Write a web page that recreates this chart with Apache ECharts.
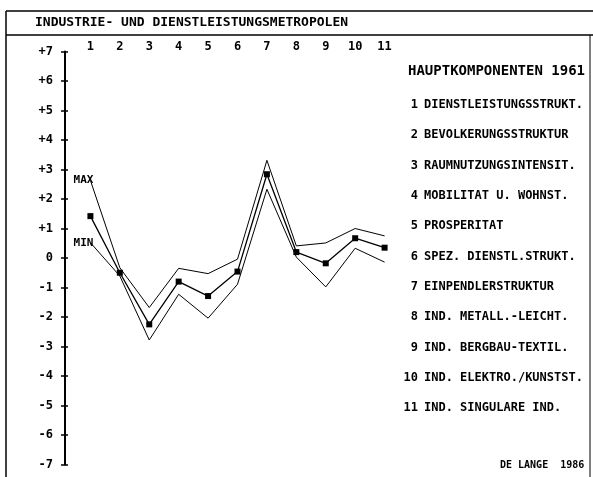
<!DOCTYPE html>
<html>
<head>
<meta charset="utf-8">
<script src="https://cdn.jsdelivr.net/npm/echarts@6/dist/echarts.min.js"></script>
<style>
  html, body { margin: 0; padding: 0; background: #fff; }
  #chart { width: 593px; height: 477px; }
</style>
</head>
<body>
<div id="chart"></div>
<script>
// components 1..11
const components = [1, 2, 3, 4, 5, 6, 7, 8, 9, 10, 11];
const maxValues = [2.63, -0.33, -1.68, -0.35, -0.53, -0.04, 3.31, 0.41, 0.51, 1.0, 0.75];
const meanValues = [1.42, -0.5, -2.25, -0.8, -1.29, -0.46, 2.84, 0.2, -0.18, 0.67, 0.35];
const minValues = [0.52, -0.61, -2.78, -1.23, -2.04, -0.89, 2.33, 0.03, -0.98, 0.33, -0.14];
const componentNames = [
  'DIENSTLEISTUNGSSTRUKT.',
  'BEVOLKERUNGSSTRUKTUR',
  'RAUMNUTZUNGSINTENSIT.',
  'MOBILITAT U. WOHNST.',
  'PROSPERITAT',
  'SPEZ. DIENSTL.STRUKT.',
  'EINPENDLERSTRUKTUR',
  'IND. METALL.-LEICHT.',
  'IND. BERGBAU-TEXTIL.',
  'IND. ELEKTRO./KUNSTST.',
  'IND. SINGULARE IND.'
];
const titleText = 'INDUSTRIE- UND DIENSTLEISTUNGSMETROPOLEN';
const legendTitle = 'HAUPTKOMPONENTEN 1961';
const sourceText = 'DE LANGE  1986';

const font = '"DejaVu Sans Mono", monospace';

function pairs(values) {
  return components.map((c, i) => [c, values[i]]);
}

const chart = echarts.init(document.getElementById('chart'));

const graphics = [
  { type: 'line', shape: { x1: 6, y1: 11, x2: 593, y2: 11 }, style: { stroke: '#000', lineWidth: 1.5 } },
  { type: 'line', shape: { x1: 6, y1: 35, x2: 593, y2: 35 }, style: { stroke: '#000', lineWidth: 1.5 } },
  { type: 'line', shape: { x1: 6, y1: 11, x2: 6, y2: 477 }, style: { stroke: '#000', lineWidth: 1.5 } },
  { type: 'line', shape: { x1: 590, y1: 35, x2: 590, y2: 477 }, style: { stroke: '#000', lineWidth: 1 } },
  { type: 'text', left: 35, top: 16, style: { text: titleText, font: 'bold 13px ' + font, fill: '#000' } },
  { type: 'text', left: 408, top: 64, style: { text: legendTitle, font: 'bold 14px ' + font, fill: '#000' } },
  { type: 'text', left: 500, top: 460, style: { text: sourceText, font: 'bold 10px ' + font, fill: '#000' } }
];
componentNames.forEach((name, i) => {
  const y = 105 + i * 30.3;
  graphics.push({ type: 'text', x: 418, y: y, style: { text: String(components[i]), font: 'bold 12px ' + font, fill: '#000', align: 'right', verticalAlign: 'middle' } });
  graphics.push({ type: 'text', x: 424, y: y, style: { text: name, font: 'bold 12px ' + font, fill: '#000', align: 'left', verticalAlign: 'middle' } });
});

const lineStyle = { color: '#000', width: 1 };

chart.setOption({
  animation: false,
  backgroundColor: '#fff',
  grid: { left: 61, top: 51.5, width: 353, height: 413 },
  xAxis: {
    type: 'value',
    position: 'top',
    min: 0,
    max: 12,
    interval: 1,
    axisLine: { show: false },
    axisTick: { show: false },
    splitLine: { show: false },
    axisLabel: {
      margin: 5,
      verticalAlign: 'middle',
      color: '#000',
      fontFamily: font,
      fontWeight: 'bold',
      fontSize: 12,
      formatter: v => (v >= 1 && v <= 11 ? String(v) : '')
    }
  },
  yAxis: [{
    type: 'value',
    min: -7,
    max: 7,
    interval: 1,
    offset: -4,
    axisLine: { show: true, lineStyle: { color: '#000', width: 2 } },
    axisTick: { show: true, length: 4, lineStyle: { color: '#000', width: 1.5 } },
    splitLine: { show: false },
    axisLabel: {
      margin: 12,
      color: '#000',
      fontFamily: font,
      fontWeight: 'bold',
      fontSize: 12,
      formatter: v => (v > 0 ? '+' + v : String(v))
    }
  }, {
    type: 'value',
    min: -7,
    max: 7,
    interval: 1,
    position: 'left',
    offset: -4,
    axisLine: { show: false },
    axisTick: { show: true, inside: true, length: 3, lineStyle: { color: '#000', width: 1.5 } },
    splitLine: { show: false },
    axisLabel: { show: false }
  }],
  series: [{
    name: 'MAX',
    type: 'line',
    data: pairs(maxValues),
    symbol: 'none',
    lineStyle: lineStyle,
    emphasis: { disabled: true }
  }, {
    name: 'MITTEL',
    type: 'line',
    data: pairs(meanValues),
    symbol: 'rect',
    symbolSize: 6,
    itemStyle: { color: '#000' },
    lineStyle: { color: '#000', width: 1.3 },
    emphasis: { disabled: true }
  }, {
    name: 'MIN',
    type: 'line',
    data: pairs(minValues),
    symbol: 'none',
    lineStyle: lineStyle,
    emphasis: { disabled: true }
  }, {
    // MAX / MIN tags at the first component
    type: 'scatter',
    data: [
      { value: [components[0], maxValues[0]], label: { formatter: 'MAX' } },
      { value: [components[0], minValues[0]], label: { formatter: 'MIN' } }
    ],
    symbolSize: 0,
    itemStyle: { opacity: 1 },
    label: {
      show: true,
      position: 'left',
      distance: -3,
      color: '#000',
      fontFamily: font,
      fontWeight: 'bold',
      fontSize: 11
    },
    silent: true
  }],
  graphic: graphics
});
</script>
</body>
</html>
